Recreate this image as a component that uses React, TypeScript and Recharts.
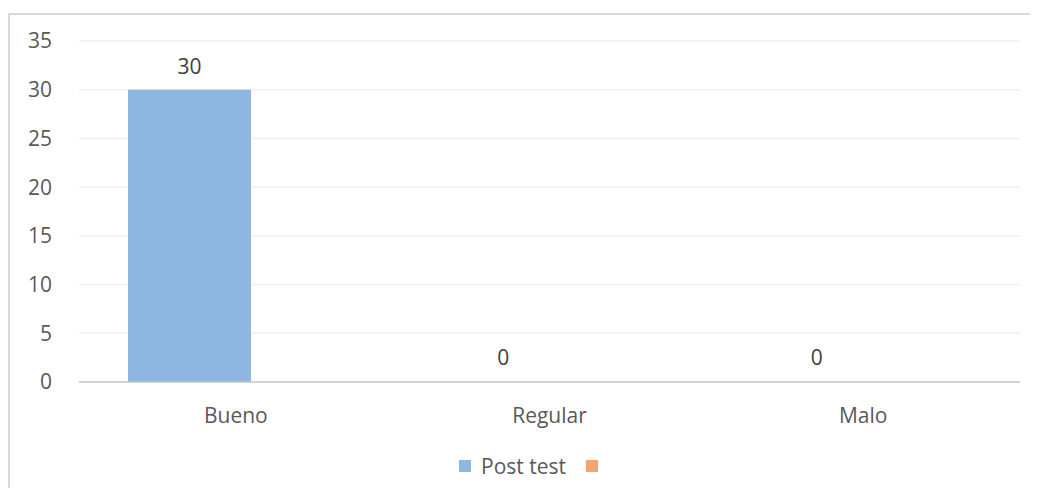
import { BarChart, Bar, XAxis, YAxis, CartesianGrid, LabelList, Rectangle } from "recharts";

const categories = ["Bueno", "Regular", "Malo"];
const postTest = [30, 0, 0];
const serie2: (number | null)[] = [null, null, null];
const yTicks = [0, 5, 10, 15, 20, 25, 30, 35];

const data = categories.map((name, i) => ({
  name,
  post: postTest[i],
  serie2: serie2[i],
}));

const FONT = "'Open Sans', 'Noto Sans', sans-serif";
const BLUE = "#8DB6E1";
const ORANGE = "#F4A46F";

// zero values still get a data label, but no visible bar
const PostShape = (props: any) =>
  props.value > 0 ? <Rectangle {...props} /> : <g />;

export default function App() {
  return (
    <div style={{ paddingTop: 5, width: 1030, height: 480, overflow: "hidden" }}>
      <div
        style={{
          width: 1040,
          height: 473,
          borderLeft: "2px solid #D9D9D9",
          borderTop: "2px solid #D9D9D9",
          position: "relative",
          fontFamily: FONT,
        }}
      >
        <BarChart
          width={1028}
          height={473}
          data={data}
          margin={{ top: 26, right: 18, bottom: 76, left: 0 }}
          barSize={123}
          barGap={-31}
        >
          <CartesianGrid vertical={false} stroke="#EFEFEF" strokeWidth={1.5} />
          <XAxis
            dataKey="name"
            axisLine={{ stroke: "#C8C8C8", strokeWidth: 1.5 }}
            tickLine={false}
            tickSize={0}
            tickMargin={26}
            tick={{ fill: "#595959", fontSize: 21, fontFamily: FONT }}
          />
          <YAxis
            width={69}
            domain={[0, 35]}
            ticks={yTicks}
            axisLine={false}
            tickLine={false}
            tickSize={0}
            tickMargin={27}
            tick={{ fill: "#595959", fontSize: 21, fontFamily: FONT }}
          />
          <Bar
            dataKey="post"
            name="Post test"
            fill={BLUE}
            minPointSize={1}
            shape={PostShape}
            isAnimationActive={false}
          >
            <LabelList
              dataKey="post"
              position="top"
              offset={16}
              style={{ fill: "#404040", fontSize: 21, fontFamily: FONT }}
            />
          </Bar>
          <Bar dataKey="serie2" name=" " fill={ORANGE} isAnimationActive={false} />
        </BarChart>
        <div
          style={{
            position: "absolute",
            top: 439,
            left: 449,
            height: 24,
            display: "flex",
            alignItems: "center",
            fontSize: 21,
            color: "#595959",
          }}
        >
          <span style={{ width: 12, height: 12, background: BLUE, display: "inline-block" }} />
          <span style={{ marginLeft: 10 }}>Post test</span>
          <span
            style={{ width: 12, height: 12, background: ORANGE, display: "inline-block", marginLeft: 20 }}
          />
        </div>
      </div>
    </div>
  );
}
